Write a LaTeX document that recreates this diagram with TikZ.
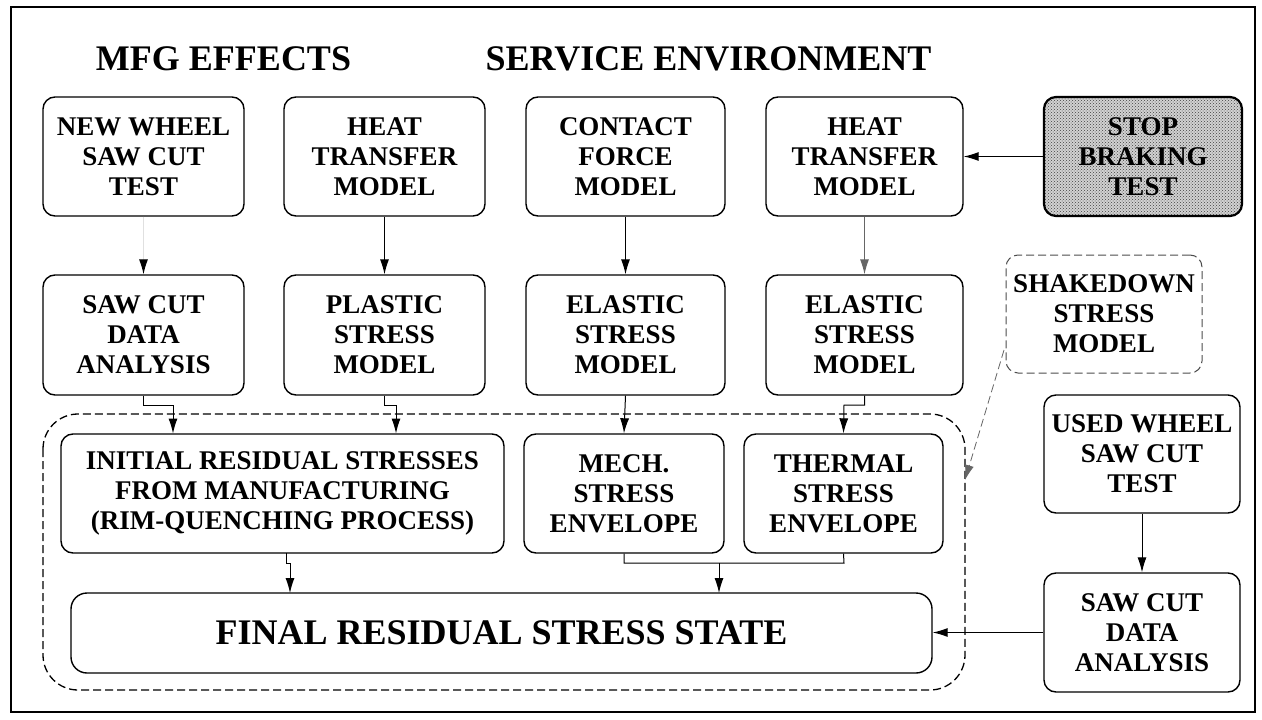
\documentclass[tikz,border=0pt]{standalone}
\usepackage{fontspec}
\setmainfont{Liberation Serif}
\usetikzlibrary{arrows.meta,patterns}
\begin{document}
\begin{tikzpicture}[x=1pt,y=-1pt,
  box/.style={draw,line width=1.4pt,rounded corners=12pt,align=center,
    font=\fontsize{27}{30}\selectfont\bfseries,inner sep=0pt},
  wd/.style={minimum width=#1},
  ht/.style={minimum height=#1},
  arr/.style={line width=1pt,-{Latex[length=15pt,width=9pt]}},
  dsh/.style={dash pattern=on 8pt off 4pt},
  title/.style={font=\fontsize{36}{40}\selectfont\bfseries,anchor=base,inner sep=0pt}]
\useasboundingbox (0,0) rectangle (1262,720);
\draw[line width=1.8pt] (11,7) rectangle (1255,712);
\node[title] (t1) at (223.5,70) {MFG EFFECTS};
\node[title] (t2) at (708.5,70) {SERVICE ENVIRONMENT};
% row 1
\node[box,wd=201,ht=119] (nw) at (143.5,156.5) {NEW WHEEL\\SAW CUT\\TEST};
\node[box,wd=201,ht=119] (ht1) at (384.5,156.5) {HEAT\\TRANSFER\\MODEL};
\node[box,wd=199,ht=119] (cf) at (625.5,156.5) {CONTACT\\FORCE\\MODEL};
\node[box,wd=197,ht=119] (ht2) at (864.5,156.5) {HEAT\\TRANSFER\\MODEL};
\node[box,wd=198,ht=119,line width=2.2pt,preaction={fill=gray!35},pattern=crosshatch dots,pattern color=black!75] (stop) at (1143,156.5) {STOP\\BRAKING\\TEST};
% row 2
\node[box,wd=201,ht=120] (sc1) at (143.5,335) {SAW CUT\\DATA\\ANALYSIS};
\node[box,wd=201,ht=120] (ps) at (384.5,335) {PLASTIC\\STRESS\\MODEL};
\node[box,wd=199,ht=120] (es1) at (625.5,335) {ELASTIC\\STRESS\\MODEL};
\node[box,wd=197,ht=120] (es2) at (864.5,335) {ELASTIC\\STRESS\\MODEL};
\node[box,wd=196,ht=118,dsh,line width=1pt,draw=black!70] (sd) at (1104,314) {SHAKEDOWN\\STRESS\\MODEL};
% dashed region
\draw[dsh,line width=1.3pt,rounded corners=35pt] (43,414) rectangle (965,690);
\coordinate (rgn) at (965,480);
% row 3
\node[box,wd=443,ht=119] (init) at (282.5,493.5) {INITIAL RESIDUAL STRESSES\\FROM MANUFACTURING\\(RIM-QUENCHING PROCESS)};
\node[box,wd=200,ht=119] (mech) at (624,493.5) {MECH.\\STRESS\\ENVELOPE};
\node[box,wd=199,ht=119] (th) at (843.5,493.5) {THERMAL\\STRESS\\ENVELOPE};
\node[box,wd=196,ht=118] (used) at (1142,454) {USED WHEEL\\SAW CUT\\TEST};
\node[box,wd=861,ht=80,rounded corners=16pt,font=\fontsize{36}{40}\selectfont\bfseries] (fin) at (501.5,633) {FINAL RESIDUAL STRESS STATE};
\node[box,wd=196,ht=119] (sc2) at (1142,632.5) {SAW CUT\\DATA\\ANALYSIS};
% connectors
\draw[line width=1pt,draw=black!12,-{Latex[length=15pt,width=9pt,color=black]}] (nw.south) -- (sc1.north);
\draw[arr] (ht1.south) -- (ps.north);
\draw[arr] (cf.south) -- (es1.north);
\draw[arr,draw=black!60] (ht2.south) -- (es2.north);
\draw[arr] (stop.west |- ht2.east) -- (ht2.east);
\draw[arr] (sc1.south) -- (143.5,405) -- (173,405) -- (173,433.5);
\draw[arr] (ps.south) -- (384.5,405) -- (396,405) -- (396,433.5);
\draw[arr] (es1.south) -- (mech.north);
\draw[arr] (es2.south) -- (864.5,405) -- (844,405) -- (th.north);
\draw[arr] (286,553) -- (286,563) -- (290,563) -- (290,593);
\draw[line width=1pt] (mech.south) -- (624,563) -- (844,563) -- (th.south);
\draw[arr] (719,563) -- (719,593);
\draw[arr] (sc2.west) -- (fin.east |- sc2.west);
\draw[arr] (used.south) -- (sc2.north);
\draw[arr,dsh,line width=0.8pt,draw=black!60] (1004,350) -- (rgn);
\end{tikzpicture}
\end{document}
